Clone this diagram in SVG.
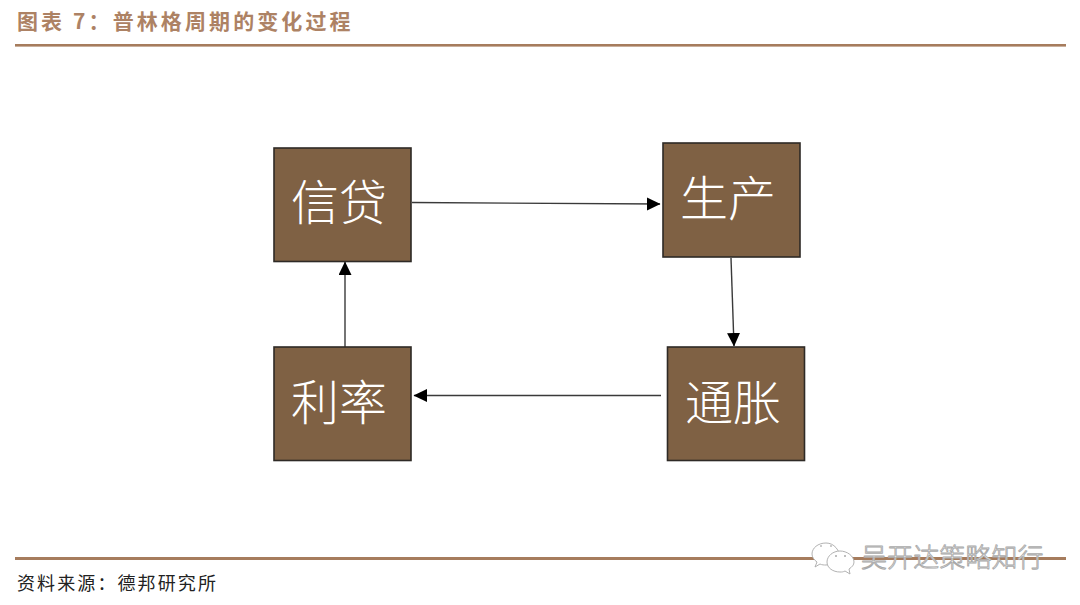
<svg xmlns="http://www.w3.org/2000/svg" width="1080" height="605" viewBox="0 0 1080 605">
<style>
text{font-family:"Noto Sans CJK SC","Liberation Sans",sans-serif}
.box{fill:#7f6144;stroke:#2e2a26;stroke-width:1.6}
.lbl{fill:#fff;font-size:48px;font-weight:300;text-anchor:middle;letter-spacing:0}
.cn{fill:none;stroke:#3a3a3a;stroke-width:1.4}
.rule{fill:#a67c5d}
.wm{fill:#fff;stroke:#a9a9a9;stroke-width:.9;stroke-linejoin:round}
</style>
<defs>
<marker id="ah" markerUnits="userSpaceOnUse" markerWidth="14" markerHeight="14" refX="13" refY="6.500" orient="auto"><path d="M0 0L13.500 6.500L0 13Z" fill="#000"/></marker>
</defs>
<rect width="1080" height="605" fill="#fff"/>
<text x="17" y="29" font-size="21" font-weight="700" fill="#ad8264" letter-spacing="3.100">图表 7：普林格周期的变化过程</text>
<rect class="rule" x="15" y="44" width="1051" height="2.600"/>
<rect class="rule" x="15" y="557" width="1051" height="3"/>
<text x="17" y="590" font-size="18" fill="#222" letter-spacing="2.100">资料来源：德邦研究所</text>
<g id="connectors">
<path class="cn" d="M412 202.500L660 204" marker-end="url(#ah)"/>
<path class="cn" d="M731 258L734 346" marker-end="url(#ah)"/>
<path class="cn" d="M661 395.500H414" marker-end="url(#ah)"/>
<path class="cn" d="M345 347V262" marker-end="url(#ah)"/>
</g>
<g id="node-xindai"><rect class="box" x="274" y="148" width="137" height="113.500"/><text class="lbl" x="339" y="220">信贷</text></g>
<g id="node-shengchan"><rect class="box" x="663" y="143" width="137" height="114"/><text class="lbl" x="728" y="216">生产</text></g>
<g id="node-tongzhang"><rect class="box" x="667.500" y="347" width="137" height="113.500"/><text class="lbl" x="733" y="420">通胀</text></g>
<g id="node-lilv"><rect class="box" x="274" y="347" width="137" height="113.500"/><text class="lbl" x="339" y="420">利率</text></g>
<g id="watermark">
<path class="wm" d="M826 543c-8 0-14 5-14 11c0 3 2 6 5 8l-2 5l5-3c2 1 4 1 6 1l6-1c4-2 6-1 8-5c0-9-6-16-14-16Z" stroke-width=".6"/>
<path class="wm" d="M840 551c-7 0-13 5-13 11s6 10 13 10c2 0 3 0 5-1l5 3l-1-5c3-2 5-4 5-7c0-6-7-11-14-11Z"/>
<circle cx="821" cy="546" r="1" fill="#bbb"/><circle cx="831" cy="546" r="1" fill="#bbb"/>
<circle cx="836" cy="556" r="1" fill="#aaa"/><circle cx="845" cy="556" r="1" fill="#aaa"/>
<text class="wm" x="861" y="567" font-size="26" font-weight="300" letter-spacing=".1">吴开达策略知行</text>
</g>
</svg>
